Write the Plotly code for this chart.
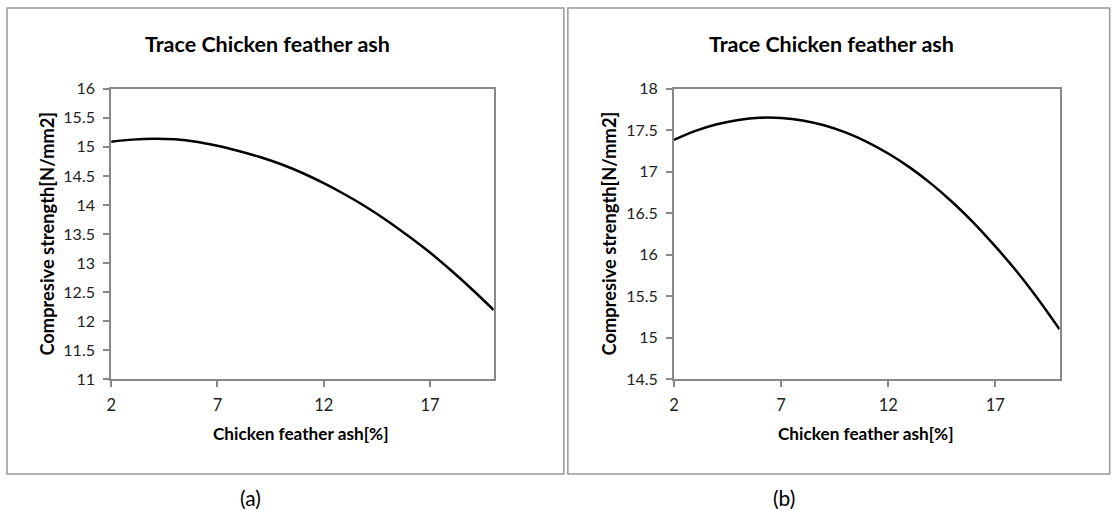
import plotly.graph_objects as go

x_ash = [2, 3, 4, 5, 6, 7, 8, 9, 10, 11, 12, 13, 14, 15, 16, 17, 18, 19, 20]
strength_a = [15.09, 15.125, 15.14, 15.13, 15.09, 15.02, 14.93, 14.825, 14.70, 14.55,
              14.375, 14.18, 13.965, 13.725, 13.46, 13.18, 12.87, 12.54, 12.19]
strength_b = [17.385, 17.493, 17.573, 17.625, 17.651, 17.648, 17.618, 17.56, 17.474, 17.361,
              17.22, 17.053, 16.857, 16.633, 16.382, 16.10, 15.798, 15.464, 15.10]
x_ticks = [2, 7, 12, 17]
y_ticks_a = [11, 11.5, 12, 12.5, 13, 13.5, 14, 14.5, 15, 15.5, 16]
y_ticks_b = [14.5, 15, 15.5, 16, 16.5, 17, 17.5, 18]
title_text = "Trace Chicken feather ash"
x_title = "Chicken feather ash[%]"
y_title = "Compresive strength[N/mm2]"

W, H = 1114, 510
FONT = "Lato, Open Sans, sans-serif"
AX = "#888888"

def px(x):
    return ((x - 5) / 0.994) / W

def py(y):
    return 1 - ((y - 8) / 0.965) / H

fig = go.Figure()
fig.add_trace(go.Scatter(x=x_ash, y=strength_a, mode="lines", line=dict(color="black", width=2.5, shape="spline"),
                         xaxis="x", yaxis="y", showlegend=False))
fig.add_trace(go.Scatter(x=x_ash, y=strength_b, mode="lines", line=dict(color="black", width=2.5, shape="spline"),
                         xaxis="x2", yaxis="y2", showlegend=False))

common_x = dict(range=[2, 20], tickvals=x_ticks, ticks="outside", ticklen=6, tickwidth=1.5, tickcolor=AX,
                showline=True, linecolor=AX, linewidth=2, mirror=True, showgrid=False, zeroline=False,
                tickfont=dict(family=FONT, size=16.5, color="#222"), ticklabelstandoff=4)
common_y = dict(ticks="outside", ticklen=6, tickwidth=1.5, tickcolor=AX,
                showline=True, linecolor=AX, linewidth=2, mirror=True, showgrid=False, zeroline=False,
                tickfont=dict(family=FONT, size=16, color="#222"), ticklabelstandoff=5)

yd = [py(378), py(87)]
fig.update_layout(
    width=W, height=H, margin=dict(l=0, r=0, t=0, b=0),
    paper_bgcolor="white", plot_bgcolor="white",
    xaxis=dict(domain=[px(111), px(493)], anchor="y", **common_x),
    yaxis=dict(domain=yd, anchor="x", range=[11, 16], tickvals=y_ticks_a, **common_y),
    xaxis2=dict(domain=[px(673), px(1058)], anchor="y2", **common_x),
    yaxis2=dict(domain=yd, anchor="x2", range=[14.5, 18], tickvals=y_ticks_b, **common_y),
)

shapes = []
for x0, x1 in [(7, 563), (567, 1108)]:
    shapes.append(dict(type="rect", xref="paper", yref="paper", x0=px(x0), x1=px(x1), y0=py(473), y1=py(6),
                       line=dict(color="#999999", width=1.5), fillcolor="rgba(0,0,0,0)", layer="below"))
fig.update_layout(shapes=shapes)

ann = []
for cx_title, cx_plot, ylab_x, lab, lab_x in [(267, 301, 47, "(a)", 250), (830, 865, 609, "(b)", 783)]:
    ann.append(dict(text="<b>" + title_text + "</b>", x=px(cx_title), y=py(42), xref="paper", yref="paper",
                    showarrow=False, font=dict(family=FONT, size=21.5, color="black"), xanchor="center", yanchor="middle"))
    ann.append(dict(text="<b>" + x_title + "</b>", x=px(cx_plot), y=py(432), xref="paper", yref="paper",
                    showarrow=False, font=dict(family=FONT, size=17.2, color="black"), xanchor="center", yanchor="middle"))
    ann.append(dict(text="<b>" + y_title + "</b>", x=px(ylab_x), y=py(232), xref="paper", yref="paper",
                    showarrow=False, textangle=-90, font=dict(family=FONT, size=18.3, color="black"),
                    xanchor="center", yanchor="middle"))
    ann.append(dict(text=lab, x=px(lab_x), y=py(497), xref="paper", yref="paper",
                    showarrow=False, font=dict(family=FONT, size=21, color="black"), xanchor="center", yanchor="middle"))
fig.update_layout(annotations=ann)

fig.write_html("out.html")
